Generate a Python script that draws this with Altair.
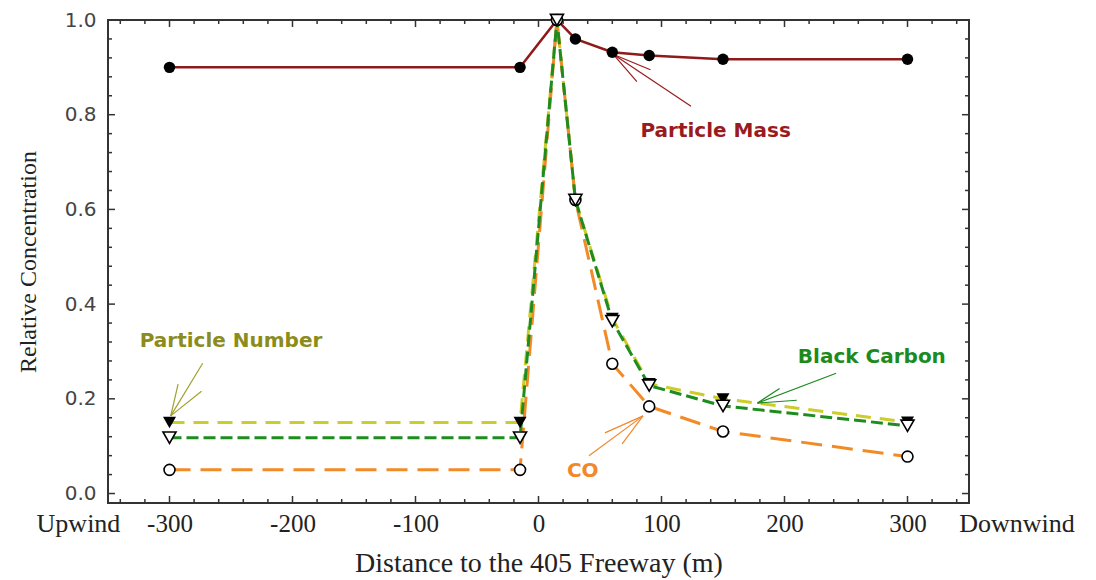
import altair as alt
import pandas as pd

# ---- data ----
distance = [-300, -15, 15, 30, 60, 90, 150, 300]
particle_mass = [0.90, 0.90, 1.00, 0.96, 0.932, 0.925, 0.917, 0.917]
particle_number = [0.15, 0.15, 1.00, 0.62, 0.37, 0.232, 0.200, 0.151]
black_carbon = [0.118, 0.118, 1.00, 0.62, 0.364, 0.228, 0.185, 0.143]
co = [0.05, 0.05, 1.00, 0.62, 0.274, 0.184, 0.131, 0.078]

x_major = [-300, -200, -100, 0, 100, 200, 300]
x_minor = [v for v in range(-340, 341, 20) if v % 100 != 0]
y_major = [0.0, 0.2, 0.4, 0.6, 0.8, 1.0]
y_minor = [0.04, 0.08, 0.12, 0.16, 0.24, 0.28, 0.32, 0.36, 0.44, 0.48, 0.52, 0.56,
           0.64, 0.68, 0.72, 0.76, 0.84, 0.88, 0.92, 0.96]

label_text = ["Particle Mass", "Particle Number", "Black Carbon", "CO"]
label_x = [144, -250, 271, 36]
label_y = [0.765, 0.323, 0.289, 0.048]
label_color = ["#991b1e", "#8c8c1c", "#1d8a1d", "#f2882a"]

# arrow segments: tip (x, y) -> end (x2, y2)
arrow_series = ["pm"] * 3 + ["pn"] * 3 + ["bc"] * 3 + ["co"] * 3
arrow_x = [61, 61, 61, -299, -299, -299, 178, 178, 178, 85, 85, 85]
arrow_y = [0.927, 0.927, 0.927, 0.164, 0.164, 0.164, 0.191, 0.191, 0.191, 0.164, 0.164, 0.164]
arrow_x2 = [124, 80, 91, -273, -293, -274, 242, 196, 210, 41, 54, 68]
arrow_y2 = [0.818, 0.87, 0.895, 0.275, 0.231, 0.216, 0.254, 0.222, 0.197, 0.08, 0.128, 0.105]
arrow_color = {"pm": "#991b1e", "pn": "#a0a030", "bc": "#1d8a1d", "co": "#f2882a"}

side_text = ["Upwind", "Downwind"]
side_x = [-374, 389]

W, H = 861, 483
xs = alt.Scale(domain=[-350, 350], nice=False, zero=False)
ys = alt.Scale(domain=[-0.02, 1.0], nice=False, zero=False)

df = pd.DataFrame({
    "d": distance, "pm": particle_mass, "pn": particle_number,
    "bc": black_carbon, "co": co,
})

x_enc = alt.X("d:Q", scale=xs, axis=alt.Axis(
    values=x_major, labelExpr="'' + datum.value", ticks=False, domain=False, grid=False,
    labelFont="Liberation Serif", labelFontSize=25, labelColor="#222",
    labelPadding=8, title="Distance to the 405 Freeway (m)",
    titleFont="Liberation Serif", titleFontSize=28, titleFontWeight="normal",
    titleColor="#222", titlePadding=13))


def y_enc(field):
    return alt.Y(f"{field}:Q", scale=ys, axis=alt.Axis(
        values=y_major, format=".1f", ticks=False, domain=False, grid=False,
        labelFont="DejaVu Sans", labelFontSize=20, labelColor="#444",
        labelPadding=12, title="Relative Concentration",
        titleFont="Liberation Serif", titleFontSize=24, titleFontWeight="normal",
        titleColor="#222", titlePadding=24))


base = alt.Chart(df)

pm_line = base.mark_line(color="#8e1a1a", strokeWidth=2.5).encode(x=x_enc, y=y_enc("pm"))
pn_line = base.mark_line(color="#cccc2a", strokeWidth=3, strokeDash=[15, 9]).encode(x="d:Q", y="pn:Q")
co_line = base.mark_line(color="#f28a26", strokeWidth=3, strokeDash=[21, 10]).encode(x="d:Q", y="co:Q")
bc_line = base.mark_line(color="#1e8c1e", strokeWidth=3, strokeDash=[12, 5]).encode(x="d:Q", y="bc:Q")

pm_pts = base.mark_point(shape="circle", filled=True, color="black", size=130, opacity=1).encode(x="d:Q", y="pm:Q")
pn_pts = base.mark_point(shape="triangle-down", filled=True, color="black", size=170, opacity=1).encode(x="d:Q", y="pn:Q")
co_pts = base.mark_point(shape="circle", fill="white", stroke="black", strokeWidth=1.6, size=120, opacity=1).encode(x="d:Q", y="co:Q")
bc_pts = base.mark_point(shape="triangle-down", fill="white", stroke="black", strokeWidth=1.6, size=170, opacity=1).encode(x="d:Q", y="bc:Q")

# arrows
adf = pd.DataFrame({"s": arrow_series, "x": arrow_x, "y": arrow_y, "x2": arrow_x2, "y2": arrow_y2})
arrows = alt.Chart(adf).mark_rule(strokeWidth=1.2).encode(
    x="x:Q", y="y:Q", x2="x2:Q", y2="y2:Q",
    color=alt.Color("s:N", scale=alt.Scale(domain=list(arrow_color.keys()),
                                           range=list(arrow_color.values())), legend=None))

ldf = pd.DataFrame({"t": label_text, "x": label_x, "y": label_y, "c": label_color})
labels = alt.Chart(ldf).mark_text(font="DejaVu Sans", fontWeight="bold", fontSize=20,
                                  align="center", baseline="middle").encode(
    x="x:Q", y="y:Q", text="t:N",
    color=alt.Color("c:N", scale=None, legend=None))

# Upwind / Downwind labels in the tick-label row
sdf = pd.DataFrame({"t": side_text, "x": side_x})
sides = alt.Chart(sdf).mark_text(font="Liberation Serif", fontSize=26, color="#222",
                                 align="center", baseline="top").encode(
    x="x:Q", y=alt.value(H + 8), text="t:N")

# inward ticks on all four sides
xmaj = alt.Chart(pd.DataFrame({"v": x_major}))
xmin = alt.Chart(pd.DataFrame({"v": x_minor}))
ymaj = alt.Chart(pd.DataFrame({"v": y_major}))
ymin = alt.Chart(pd.DataFrame({"v": y_minor}))
tc = "#333"
ticks = [
    xmaj.mark_rule(color=tc, strokeWidth=1.5).encode(x="v:Q", y=alt.value(H), y2=alt.value(H - 7)),
    xmaj.mark_rule(color=tc, strokeWidth=1.5).encode(x="v:Q", y=alt.value(0), y2=alt.value(7)),
    xmin.mark_rule(color=tc, strokeWidth=1.5).encode(x="v:Q", y=alt.value(H), y2=alt.value(H - 4)),
    xmin.mark_rule(color=tc, strokeWidth=1.5).encode(x="v:Q", y=alt.value(0), y2=alt.value(4)),
    ymaj.mark_rule(color=tc, strokeWidth=1.5).encode(y="v:Q", x=alt.value(0), x2=alt.value(7)),
    ymaj.mark_rule(color=tc, strokeWidth=1.5).encode(y="v:Q", x=alt.value(W), x2=alt.value(W - 7)),
    ymin.mark_rule(color=tc, strokeWidth=1.5).encode(y="v:Q", x=alt.value(0), x2=alt.value(4)),
    ymin.mark_rule(color=tc, strokeWidth=1.5).encode(y="v:Q", x=alt.value(W), x2=alt.value(W - 4)),
]

chart = alt.layer(
    pm_line, *ticks, pn_line, co_line, bc_line, arrows,
    pm_pts, pn_pts, co_pts, bc_pts, labels, sides,
).properties(
    width=W, height=H,
    autosize=alt.AutoSizeParams(type="none"),
    padding={"left": 100, "top": 12, "right": 110, "bottom": 77},
    background="white",
).configure_view(stroke="#333", strokeWidth=2)

chart.save("out.html", embed_options={"renderer": "svg", "actions": False})
